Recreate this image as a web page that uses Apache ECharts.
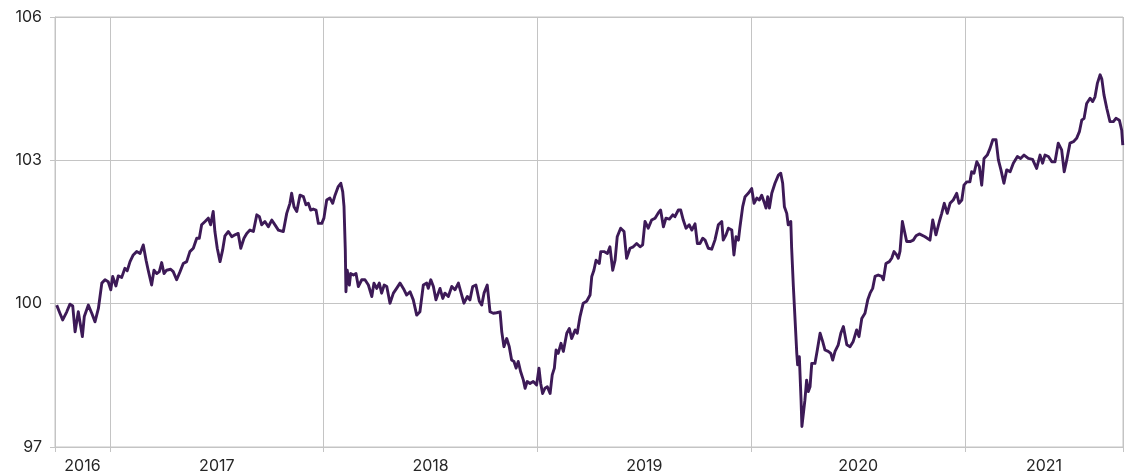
<!DOCTYPE html>
<html>
<head>
<meta charset="utf-8">
<script src="https://cdn.jsdelivr.net/npm/echarts@6/dist/echarts.min.js"></script>
<style>html,body{margin:0;padding:0;background:#fff;}#c{width:1131px;height:475px;}</style>
</head>
<body>
<div id="c"></div>
<script>
// x positions in fractional years
const times = [
2016.751,2016.766,2016.779,2016.798,2016.813,2016.826,2016.837,2016.852,2016.871,2016.880,2016.899,2016.915,2016.930,2016.946,2016.954,2016.962,2016.977,2016.992,
2017.004,2017.013,2017.028,2017.039,2017.055,2017.070,2017.081,2017.094,2017.109,2017.125,2017.141,2017.156,2017.169,2017.179,2017.195,2017.206,2017.219,2017.231,2017.242,2017.253,2017.265,2017.284,2017.296,2017.312,2017.328,2017.343,2017.359,2017.374,2017.390,2017.406,2017.418,2017.429,2017.445,2017.460,2017.471,2017.483,2017.491,2017.502,2017.515,2017.527,2017.538,2017.554,
2017.570,2017.585,2017.600,2017.612,2017.627,2017.640,2017.655,2017.671,2017.687,2017.699,2017.710,2017.725,2017.741,2017.757,2017.772,2017.788,2017.811,2017.827,2017.842,2017.850,2017.861,2017.874,2017.889,2017.905,2017.917,2017.928,2017.939,2017.951,2017.964,2017.975,2017.991,
2018.001,2018.014,2018.029,2018.042,2018.053,2018.068,2018.080,2018.089,2018.095,2018.101,2018.104,2018.110,2018.120,2018.126,2018.139,2018.151,2018.162,2018.178,2018.193,2018.209,2018.225,2018.235,2018.248,2018.260,2018.271,2018.283,2018.295,2018.310,2018.326,2018.341,2018.357,
2018.376,2018.388,2018.404,2018.419,2018.435,2018.450,2018.466,2018.482,2018.489,2018.501,2018.513,2018.525,2018.544,2018.557,2018.567,2018.583,2018.599,2018.614,2018.630,2018.641,2018.656,2018.672,2018.684,2018.697,2018.712,2018.728,2018.739,2018.750,2018.765,2018.778,2018.793,2018.809,2018.825,2018.833,2018.843,2018.856,2018.868,2018.879,2018.890,2018.900,2018.910,2018.921,2018.934,2018.942,2018.952,2018.965,2018.980,2018.996,
2019.007,2019.015,2019.024,2019.035,2019.046,2019.059,2019.069,2019.079,2019.087,2019.097,2019.110,2019.121,2019.137,2019.149,2019.160,2019.176,2019.186,2019.199,2019.214,2019.230,2019.246,2019.254,2019.264,2019.274,2019.289,2019.296,2019.311,2019.327,2019.339,2019.352,2019.363,2019.373,2019.389,2019.405,2019.417,2019.433,2019.448,2019.464,2019.480,2019.492,2019.503,2019.518,2019.534,2019.550,2019.565,2019.576,2019.589,2019.601,2019.617,2019.633,2019.643,2019.659,2019.670,2019.682,2019.695,2019.710,2019.722,2019.737,2019.748,2019.760,2019.773,2019.784,2019.799,2019.815,2019.830,2019.846,2019.862,2019.869,2019.882,2019.893,2019.909,2019.919,2019.929,2019.940,2019.947,2019.960,2019.971,2019.986,
2020.002,2020.013,2020.026,2020.038,2020.049,2020.060,2020.069,2020.077,2020.085,2020.096,2020.111,2020.127,2020.138,2020.147,2020.155,2020.166,2020.173,2020.185,2020.189,2020.197,2020.205,2020.213,2020.217,2020.225,2020.233,2020.237,2020.244,2020.251,2020.259,2020.267,2020.275,2020.283,2020.298,2020.309,2020.322,2020.334,2020.345,2020.360,2020.372,2020.381,2020.392,2020.407,2020.419,2020.431,2020.439,2020.447,2020.462,2020.477,2020.493,2020.504,2020.517,2020.532,2020.545,2020.556,2020.568,2020.579,2020.594,2020.610,2020.618,2020.630,2020.646,2020.657,2020.668,2020.680,2020.688,2020.696,2020.707,2020.716,2020.727,2020.743,2020.758,2020.771,2020.786,2020.813,2020.836,2020.849,2020.864,2020.880,2020.891,2020.903,2020.917,2020.930,2020.945,2020.961,2020.972,2020.985,2020.995,
2021.008,2021.023,2021.031,2021.042,2021.055,2021.067,2021.078,2021.089,2021.104,2021.117,2021.130,2021.145,2021.156,2021.168,2021.182,2021.195,2021.211,2021.226,2021.245,2021.260,2021.276,2021.296,2021.316,2021.335,2021.351,2021.363,2021.374,2021.390,2021.406,2021.421,2021.436,2021.452,2021.464,2021.476,2021.491,2021.507,2021.522,2021.535,2021.546,2021.557,2021.569,2021.585,2021.597,2021.608,2021.619,2021.632,2021.640,2021.650,2021.663,2021.678,2021.694,2021.706,2021.722,2021.733,2021.738
];
const values = [
99.97,99.80,99.66,99.83,99.99,99.95,99.41,99.83,99.31,99.73,99.97,99.80,99.62,99.90,99.94,100.43,100.50,100.46,
100.29,100.57,100.37,100.58,100.55,100.74,100.69,100.88,101.02,101.09,101.05,101.23,100.91,100.70,100.39,100.70,100.63,100.67,100.86,100.63,100.70,100.72,100.67,100.50,100.67,100.84,100.88,101.09,101.16,101.37,101.37,101.65,101.72,101.79,101.65,101.93,101.51,101.16,100.88,101.12,101.42,101.51,
101.40,101.44,101.47,101.16,101.37,101.47,101.54,101.51,101.86,101.82,101.65,101.72,101.61,101.75,101.65,101.54,101.51,101.89,102.10,102.31,102.03,101.93,102.27,102.24,102.07,102.10,101.96,101.98,101.96,101.68,101.68,
101.79,102.17,102.21,102.10,102.27,102.45,102.52,102.34,102.03,101.12,100.25,100.70,100.39,100.63,100.60,100.63,100.36,100.50,100.50,100.39,100.15,100.43,100.32,100.43,100.22,100.39,100.36,100.01,100.22,100.32,100.43,
100.29,100.18,100.25,100.08,99.76,99.83,100.39,100.43,100.32,100.50,100.36,100.08,100.32,100.11,100.22,100.15,100.36,100.29,100.43,100.25,100.01,100.15,100.08,100.36,100.39,100.05,99.97,100.22,100.39,99.83,99.80,99.81,99.83,99.41,99.10,99.27,99.10,98.82,98.79,98.65,98.79,98.58,98.40,98.23,98.37,98.33,98.37,98.30,
98.65,98.33,98.12,98.23,98.26,98.12,98.51,98.65,99.03,98.96,99.17,99.00,99.38,99.48,99.27,99.45,99.38,99.73,100.01,100.05,100.18,100.57,100.70,100.91,100.84,101.09,101.09,101.05,101.19,100.70,100.91,101.40,101.58,101.51,100.95,101.16,101.19,101.26,101.19,101.23,101.72,101.58,101.75,101.79,101.90,101.96,101.61,101.79,101.77,101.86,101.82,101.96,101.96,101.75,101.58,101.65,101.54,101.67,101.26,101.26,101.37,101.33,101.16,101.14,101.33,101.65,101.72,101.33,101.44,101.58,101.54,101.02,101.40,101.33,101.60,102.03,102.24,102.31,
102.41,102.10,102.21,102.17,102.27,102.13,102.00,102.24,102.00,102.31,102.52,102.69,102.73,102.52,102.03,101.89,101.65,101.72,101.16,100.36,99.66,98.96,98.72,98.89,97.98,97.43,97.43,97.98,98.40,98.16,98.26,98.75,98.75,99.03,99.38,99.21,99.03,99.00,98.96,98.82,99.00,99.14,99.38,99.52,99.55,99.14,99.10,99.21,99.45,99.31,99.69,99.80,100.08,100.22,100.32,100.57,100.60,100.57,100.50,100.84,100.88,100.95,101.09,101.02,100.95,101.10,101.72,101.72,101.30,101.30,101.33,101.42,101.46,101.40,101.33,101.75,101.44,101.72,101.89,102.10,101.89,102.10,102.17,102.31,102.10,102.17,102.48,
102.55,102.55,102.76,102.73,102.97,102.87,102.48,103.04,103.11,103.25,103.43,103.43,103.01,102.80,102.52,102.80,102.76,102.94,103.08,103.04,103.11,103.04,103.02,102.83,103.11,102.94,103.11,103.08,102.97,102.97,103.36,103.22,102.76,103.01,103.36,103.39,103.46,103.60,103.84,103.88,104.19,104.30,104.23,104.33,104.61,104.79,104.70,104.37,104.09,103.81,103.81,103.88,103.84,103.63,103.32
];
const yearLabels = ['2016','2017','2018','2019','2020','2021'];
const yearTicks = [2016.743, 2017, 2018, 2019, 2020, 2021, 2021.739];
const labelPositions = [2016.8715, 2017.5, 2018.5, 2019.5, 2020.5, 2021.3695];
const yTicks = { min: 97, max: 106, interval: 3 };

const data = times.map((t, i) => [t, values[i]]);
const chart = echarts.init(document.getElementById('c'), null, { renderer: 'canvas' });
const gridColor = '#c4c4c4';
const font = 'Inter, "Liberation Sans", Arial, sans-serif';
chart.setOption({
  animation: false,
  backgroundColor: '#ffffff',
  grid: { left: 55, right: 8, top: 17, bottom: 28, show: true, borderColor: gridColor, borderWidth: 1 },
  xAxis: {
    type: 'value',
    min: yearTicks[0],
    max: yearTicks[yearTicks.length - 1],
    axisLine: { show: true, onZero: false, lineStyle: { color: gridColor } },
    axisTick: { show: true, length: 5, lineStyle: { color: gridColor }, customValues: yearTicks },
    splitLine: { show: true, lineStyle: { color: gridColor, width: 1 } },
    axisLabel: {
      customValues: labelPositions,
      formatter: function (v) {
        const idx = labelPositions.findIndex(p => Math.abs(p - v) < 1e-6);
        return idx >= 0 ? yearLabels[idx] : '';
      },
      color: '#262626', fontSize: 16, fontFamily: font, margin: 11
    }
  },
  yAxis: {
    type: 'value',
    min: yTicks.min, max: yTicks.max, interval: yTicks.interval,
    axisLine: { show: true, lineStyle: { color: gridColor } },
    axisTick: { show: true, length: 5, lineStyle: { color: gridColor } },
    splitLine: { show: true, lineStyle: { color: gridColor, width: 1 } },
    axisLabel: { color: '#262626', fontSize: 16, fontFamily: font, margin: 13 }
  },
  series: [{
    type: 'line',
    data: data,
    showSymbol: false,
    symbol: 'none',
    lineStyle: { color: '#3d1a57', width: 2.9, join: 'round' },
    z: 3
  }]
});
</script>
</body>
</html>
